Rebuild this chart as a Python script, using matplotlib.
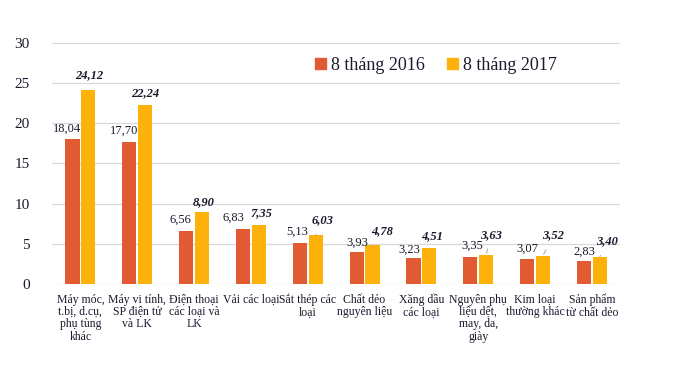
import numpy as np
import matplotlib.pyplot as plt
from matplotlib.patches import Patch

# ── data ──────────────────────────────────────────────────────────────────────
categories = [
    "Máy móc,\nt.bị, d.cụ,\nphụ tùng\nkhác",
    "Máy vi tính,\nSP điện tử\nvà LK",
    "Điện thoại\ncác loại và\nLK",
    "Vải các loại",
    "Sắt thép các\nloại",
    "Chất dẻo\nnguyên liệu",
    "Xăng dầu\ncác loại",
    "Nguyên phụ\nliệu dệt,\nmay, da,\ngiày",
    "Kim loại\nthường khác",
    "Sản phẩm\ntừ chất dẻo",
]
v2016 = [18.04, 17.70, 6.56, 6.83, 5.13, 3.93, 3.23, 3.35, 3.07, 2.83]
v2017 = [24.12, 22.24, 8.90, 7.35, 6.03, 4.78, 4.51, 3.63, 3.52, 3.40]
series_names = ["8 tháng 2016", "8 tháng 2017"]

# ── label placement (pixels from bar top centre) ──────────────────────────────
off16 = [(-5, 10), (-5, 11), (-6, 11), (-10, 11), (-3, 11),
         (1, 10), (-4, 8), (2, 11), (0, 10), (0, 9)]
off17 = [(1, 15), (0, 12), (2, 10), (3, 12), (7, 15),
         (10, 14), (3, 11), (5, 20), (10, 20), (7, 15)]
leader17 = [False, False, False, False, True, True, False, True, True, True]

RED = '#E15A32'
ORANGE = '#FDB10B'
TXT = '#1a1a2e'

plt.rcParams['font.family'] = ['Liberation Serif', 'DejaVu Serif']

fig = plt.figure(figsize=(6.75, 3.72), dpi=100)
ax = fig.add_axes([0.077, 0.237, 0.842, 0.647])

x = np.arange(len(categories))
w = 0.25
gap = 0.03
b1 = ax.bar(x - w / 2 - gap / 2, v2016, w, color=RED, zorder=3)
b2 = ax.bar(x + w / 2 + gap / 2, v2017, w, color=ORANGE, zorder=3)

for rect, v, (dx, dy) in zip(b1, v2016, off16):
    ax.annotate(f"{v:.2f}".replace('.', ','),
                (rect.get_x() + rect.get_width() / 2, rect.get_height()),
                xytext=(dx, dy), textcoords='offset pixels',
                ha='center', va='center', fontsize=9, color=TXT)

for rect, v, (dx, dy), ld in zip(b2, v2017, off17, leader17):
    xy = (rect.get_x() + rect.get_width() / 2, rect.get_height())
    ap = dict(arrowstyle='-', color='#9a9a9a', lw=0.6, shrinkA=4, shrinkB=1) if ld else None
    ax.annotate(f"{v:.2f}".replace('.', ','), xy,
                xytext=(dx, dy), textcoords='offset pixels',
                ha='center', va='center', fontsize=9, color=TXT,
                fontweight='bold', fontstyle='italic', arrowprops=ap)

ax.set_ylim(0, 30)
ax.set_xlim(-0.5, len(categories) - 0.5)
ax.set_yticks(range(0, 31, 5))
ax.yaxis.grid(True, color='#D9D9D9', linewidth=0.9, zorder=0)
ax.set_axisbelow(True)
for s in ax.spines.values():
    s.set_visible(False)
ax.tick_params(axis='both', length=0, labelcolor=TXT)
ax.tick_params(axis='y', labelsize=11, pad=16)
ax.set_xticks(x)
ax.set_xticklabels(categories, fontsize=8.5, linespacing=1.05)
ax.tick_params(axis='x', pad=7)

handles = [Patch(color=RED), Patch(color=ORANGE)]
fig.legend(handles, series_names, loc='center', bbox_to_anchor=(0.646, 0.825),
           ncol=2, frameon=False, fontsize=13, handlelength=0.6, handleheight=0.6,
           handletextpad=0.3, columnspacing=1.2, labelcolor=TXT)

fig.savefig('out.png', dpi=100)
